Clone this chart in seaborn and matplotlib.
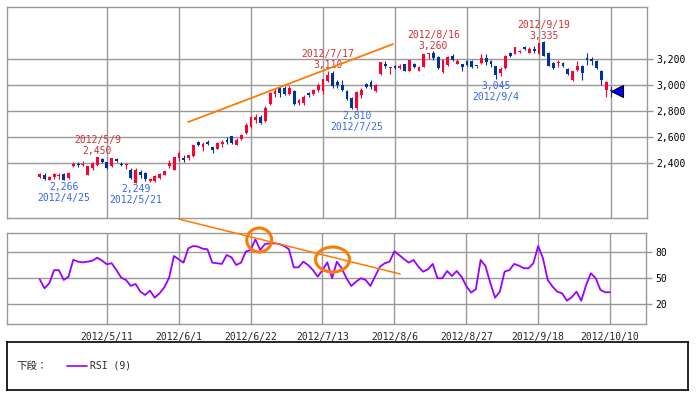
"""
Daily candlestick chart (Apr-Oct 2012) with a 9-day RSI panel underneath,
hand-drawn trend lines and circled RSI peaks.
"""

import numpy as np
import pandas as pd
import matplotlib
matplotlib.use("Agg")
import matplotlib.pyplot as plt
from matplotlib.patches import Ellipse
from matplotlib.lines import Line2D
import seaborn as sns

# ── data (one entry per trading day, 2012/4/18 .. 2012/10/10) ──────────
opens = [2290, 2310, 2270, 2290, 2300, 2315, 2285, 2380, 2395, 2385,
         2310, 2360, 2385, 2430, 2405, 2380, 2430, 2395, 2385, 2345,
         2250, 2330, 2325, 2260, 2260, 2285, 2310, 2375, 2345, 2440,
         2435, 2440, 2455, 2560, 2525, 2565, 2520, 2510, 2545, 2575,
         2605, 2540, 2585, 2630, 2680, 2730, 2755, 2720, 2855, 2930,
         2975, 2980, 2930, 2955, 2860, 2860, 2935, 2930, 2960, 2955,
         3030, 3090, 3025, 3000, 2955, 2900, 2820, 2920, 3010, 3020,
         2955, 3085, 3160, 3130, 3150, 3130, 3160, 3110, 3160, 3110,
         3140, 3235, 3250, 3215, 3100, 3155, 3225, 3165, 3160, 3185,
         3185, 3150, 3170, 3205, 3185, 3150, 3095, 3130, 3245, 3240,
         3255, 3295, 3250, 3275, 3240, 3330, 3250, 3170, 3170, 3170,
         3125, 3040, 3115, 3150, 3205, 3200, 3185, 3110, 2960, 2960]
highs = [2325, 2320, 2300, 2325, 2320, 2320, 2330, 2410, 2405, 2415,
         2380, 2405, 2450, 2435, 2410, 2440, 2440, 2405, 2400, 2360,
         2360, 2345, 2330, 2280, 2305, 2320, 2340, 2425, 2450, 2490,
         2465, 2465, 2540, 2570, 2565, 2580, 2525, 2560, 2575, 2600,
         2610, 2590, 2620, 2705, 2765, 2775, 2770, 2835, 2950, 2975,
         2980, 2990, 2990, 2965, 2895, 2925, 2950, 2970, 3015, 3050,
         3110, 3105, 3040, 3040, 2960, 2905, 2955, 2975, 3015, 3035,
         3005, 3180, 3185, 3140, 3155, 3160, 3165, 3195, 3170, 3145,
         3240, 3250, 3260, 3220, 3195, 3220, 3235, 3200, 3165, 3190,
         3190, 3150, 3240, 3240, 3190, 3150, 3140, 3230, 3255, 3295,
         3270, 3300, 3295, 3300, 3330, 3335, 3255, 3175, 3195, 3175,
         3130, 3110, 3185, 3155, 3250, 3215, 3190, 3115, 3030, 2990]
lows = [2285, 2270, 2270, 2280, 2280, 2266, 2280, 2370, 2370, 2375,
        2305, 2345, 2375, 2400, 2355, 2370, 2405, 2375, 2355, 2275,
        2249, 2285, 2265, 2255, 2255, 2280, 2305, 2365, 2345, 2415,
        2410, 2425, 2450, 2530, 2490, 2535, 2480, 2505, 2520, 2550,
        2550, 2535, 2580, 2620, 2670, 2710, 2700, 2715, 2845, 2910,
        2905, 2920, 2920, 2850, 2845, 2850, 2905, 2920, 2950, 2930,
        3025, 2975, 2980, 2955, 2885, 2815, 2810, 2900, 2975, 2970,
        2950, 3080, 3130, 3085, 3125, 3120, 3105, 3105, 3130, 3105,
        3135, 3200, 3195, 3125, 3095, 3150, 3185, 3160, 3110, 3150,
        3130, 3130, 3165, 3155, 3140, 3045, 3070, 3125, 3215, 3235,
        3250, 3270, 3245, 3245, 3235, 3220, 3145, 3120, 3140, 3135,
        3075, 3030, 3110, 3040, 3155, 3155, 3125, 3000, 2905, 2905]
closes = [2315, 2280, 2295, 2315, 2305, 2270, 2325, 2395, 2385, 2395,
          2375, 2400, 2445, 2405, 2360, 2435, 2415, 2385, 2395, 2285,
          2345, 2305, 2275, 2275, 2300, 2315, 2335, 2400, 2450, 2480,
          2425, 2460, 2535, 2540, 2545, 2545, 2500, 2555, 2565, 2565,
          2555, 2575, 2615, 2690, 2755, 2755, 2705, 2820, 2935, 2955,
          2935, 2930, 2980, 2855, 2885, 2910, 2925, 2960, 3000, 3045,
          3075, 2995, 3000, 2960, 2890, 2820, 2950, 2960, 2985, 2985,
          3000, 3180, 3150, 3135, 3130, 3150, 3110, 3190, 3135, 3140,
          3235, 3245, 3205, 3130, 3190, 3215, 3190, 3185, 3140, 3155,
          3140, 3145, 3205, 3180, 3160, 3075, 3125, 3225, 3220, 3290,
          3265, 3275, 3275, 3260, 3325, 3225, 3150, 3130, 3175, 3150,
          3085, 3105, 3150, 3090, 3195, 3185, 3130, 3040, 3025, 2955]
rsi9 = [48.5, 38.0, 44.0, 59.0, 59.0, 47.7, 51.5, 71.0, 68.8, 68.0,
        68.8, 70.0, 73.4, 70.0, 65.8, 67.0, 59.2, 50.4, 47.7, 40.8,
        43.1, 34.2, 30.4, 35.4, 27.3, 32.3, 39.2, 50.4, 75.4, 71.5,
        67.7, 84.2, 86.9, 86.2, 83.8, 83.1, 67.7, 67.0, 66.2, 76.5,
        73.8, 65.0, 67.7, 80.4, 82.3, 94.6, 82.3, 89.2, 90.0, 90.0,
        89.2, 86.9, 83.1, 62.3, 62.3, 68.8, 65.0, 59.2, 51.5, 59.2,
        68.1, 49.7, 68.8, 61.2, 49.7, 40.8, 45.8, 49.7, 47.7, 40.8,
        52.3, 63.1, 67.0, 68.8, 80.8, 76.5, 71.9, 67.7, 70.8, 63.1,
        57.3, 60.0, 66.2, 49.7, 49.7, 58.1, 52.3, 58.1, 51.5, 40.8,
        33.1, 37.0, 70.8, 63.8, 44.6, 27.3, 34.2, 57.3, 59.2, 66.2,
        64.2, 61.2, 61.2, 67.0, 86.9, 72.7, 47.7, 40.0, 34.2, 32.3,
        23.8, 27.7, 34.2, 23.8, 41.9, 55.4, 49.7, 36.2, 33.5, 33.5]

tick_idx = [14, 29, 44, 59, 74, 89, 104, 119]
tick_dates = ["2012/5/11", "2012/6/1", "2012/6/22", "2012/7/13",
              "2012/8/6", "2012/8/27", "2012/9/18", "2012/10/10"]
price_ticks = [2400, 2600, 2800, 3000, 3200]
rsi_ticks = [20, 50, 80]

# labelled swing highs / lows: (candle index, date text)
high_marks = [(12, "2012/5/9"), (60, "2012/7/17"), (82, "2012/8/16"), (105, "2012/9/19")]
low_marks = [(5, "2012/4/25"), (20, "2012/5/21"), (66, "2012/7/25"), (95, "2012/9/4")]

# hand-drawn annotations (data coordinates)
price_trend_x, price_trend_y = [30.9, 73.6], [2715, 3315]
rsi_trend_x, rsi_trend_y = [29.0, 75.2], [118, 54.6]
rsi_circles = [(45.8, 93.8, 5.2, 27.7), (61.1, 71.3, 7.1, 28.8)]

RED = "#FF0033"
BLUE = "#003399"
GRID = "#999999"
ORANGE = "#FF7A00"
PURPLE = "#9900FF"

sns.set_theme(style="white")
plt.rcParams["font.family"] = ["DejaVu Sans Mono", "Noto Sans CJK JP"]

df = pd.DataFrame({"open": opens, "high": highs, "low": lows, "close": closes, "rsi": rsi9})
df["idx"] = np.arange(len(df))
colors = np.where(df["close"] >= df["open"], RED, BLUE)

W, H = 696, 395
fig = plt.figure(figsize=(W / 100, H / 100), dpi=100)
ax = fig.add_axes([7 / W, 1 - 218 / H, 640 / W, 211 / H])
ax_rsi = fig.add_axes([7 / W, 1 - 324 / H, 639 / W, 91 / H])
ax_leg = fig.add_axes([7 / W, 1 - 390 / H, 681 / W, 48 / H])

for a in (ax, ax_rsi):
    a.set_xlim(-6.83, 126.5)
    a.set_xticks(tick_idx)
    a.grid(True, color=GRID, lw=1)
    a.yaxis.tick_right()
    a.tick_params(axis="y", length=4, color=GRID, width=1, labelsize=7, pad=3,
                  right=True, left=False, labelcolor="black")
    a.tick_params(axis="x", length=0, labelsize=7, pad=6)
    for s in a.spines.values():
        s.set_color(GRID)
        s.set_linewidth(1)

# ── candles ───────────────────────────────────────────────────────────
ax.vlines(df["idx"], df["low"], df["high"], colors=colors, lw=0.8, zorder=3)
body_lo = np.minimum(df["open"], df["close"])
body_h = np.maximum((df["close"] - df["open"]).abs(), 7)
ax.bar(df["idx"], body_h, bottom=body_lo, width=0.62, color=colors, lw=0, zorder=4)

ax.set_ylim(1977, 3600)
ax.set_yticks(price_ticks)
ax.set_yticklabels([f"{v:,}" for v in price_ticks])
ax.set_xticklabels([])

for i, label in high_marks:
    ax.annotate(f"{highs[i]:,}", (i, highs[i]), xytext=(0, 3.8), textcoords="offset points",
                ha="center", va="center", fontsize=7, color="#CC3333")
    ax.annotate(label, (i, highs[i]), xytext=(0, 11.8), textcoords="offset points",
                ha="center", va="center", fontsize=7, color="#CC3333")
for i, label in low_marks:
    ax.annotate(f"{lows[i]:,}", (i, lows[i]), xytext=(0, -4.6), textcoords="offset points",
                ha="center", va="center", fontsize=7, color="#3366EE")
    ax.annotate(label, (i, lows[i]), xytext=(0, -12.6), textcoords="offset points",
                ha="center", va="center", fontsize=7, color="#3366EE")

ax.plot(price_trend_x, price_trend_y, color=ORANGE, lw=1.3, zorder=5)
ax.plot(df["idx"].iloc[-1] + 1.3, closes[-1], marker="<", ms=9, mfc="#0000FF",
        mec="black", mew=0.8, clip_on=False, zorder=6)

# ── RSI panel ─────────────────────────────────────────────────────────
sns.lineplot(data=df, x="idx", y="rsi", ax=ax_rsi, color=PURPLE, lw=1.3)
ax_rsi.set_ylim(-3.1, 101.9)
ax_rsi.set_yticks(rsi_ticks)
ax_rsi.set_xticklabels(tick_dates)
ax_rsi.set_xlabel("")
ax_rsi.set_ylabel("")
ax_rsi.plot(rsi_trend_x, rsi_trend_y, color=ORANGE, lw=1.1, clip_on=False, zorder=5)
for cx, cy, w, h in rsi_circles:
    ax_rsi.add_patch(Ellipse((cx, cy), w, h, fill=False, ec=ORANGE, lw=2.2,
                             clip_on=False, zorder=6))

# ── legend box ────────────────────────────────────────────────────────
ax_leg.set_xticks([])
ax_leg.set_yticks([])
for s in ax_leg.spines.values():
    s.set_color("black")
    s.set_linewidth(1.2)
fig.text(16 / W, 1 - 366 / H, "下段：", fontsize=7.5, va="center", ha="left")
fig.add_artist(Line2D([67 / W, 87 / W], [1 - 366 / H] * 2, color=PURPLE, lw=1.2,
                      transform=fig.transFigure))
fig.text(90 / W, 1 - 366 / H, "RSI (9)", fontsize=7, va="center", ha="left")

fig.savefig("out.png", dpi=100)
